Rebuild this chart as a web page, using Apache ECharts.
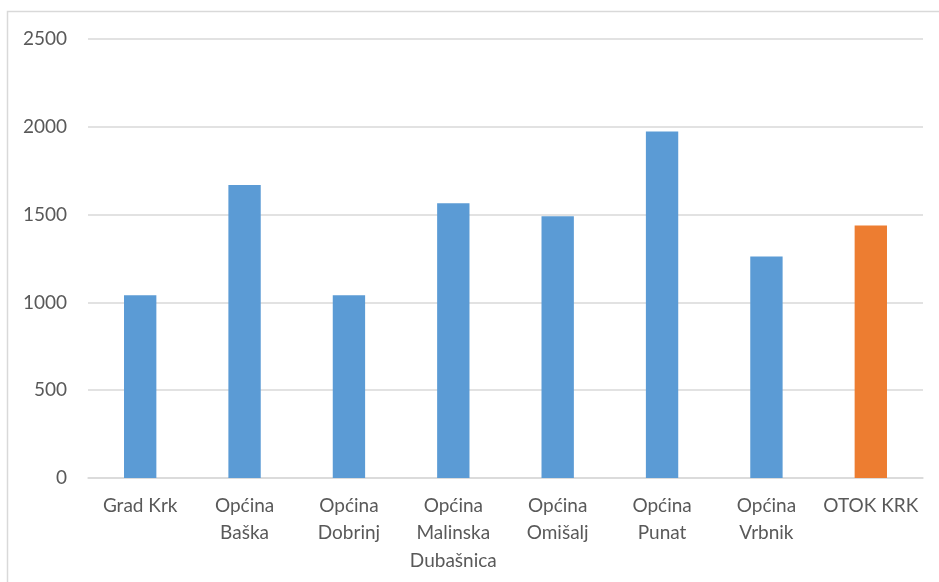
<!DOCTYPE html>
<html>
<head>
<meta charset="utf-8">
<script src="https://cdn.jsdelivr.net/npm/echarts@6/dist/echarts.min.js"></script>
<style>
  html, body { margin: 0; padding: 0; background: #fff; }
  #main { width: 939px; height: 582px; }
</style>
</head>
<body>
<div id="main"></div>
<script>
// kategorije (općine) i vrijednosti
var categories = ['Grad Krk', 'Općina\nBaška', 'Općina\nDobrinj', 'Općina\nMalinska\nDubašnica',
    'Općina\nOmišalj', 'Općina\nPunat', 'Općina\nVrbnik', 'OTOK KRK'];
var values = [1041, 1668, 1041, 1564, 1491, 1973, 1262, 1438];
var barColors = ['#5b9bd5', '#5b9bd5', '#5b9bd5', '#5b9bd5', '#5b9bd5', '#5b9bd5', '#5b9bd5', '#ed7d31'];
var yMax = 2500;
var yStep = 500;

var myChart = echarts.init(document.getElementById('main'));

var seriesData = [];
for (var i = 0; i < values.length; i++) {
    seriesData.push({ value: values[i], itemStyle: { color: barColors[i] } });
}

var option = {
    animation: false,
    backgroundColor: '#fff',
    graphic: [{
        type: 'rect',
        shape: { x: 7.5, y: 11.5, width: 960, height: 600 },
        style: { fill: 'none', stroke: '#d9d9d9', lineWidth: 1.5 },
        silent: true
    }],
    grid: { left: 88, right: 16, top: 39, bottom: 104 },
    xAxis: {
        type: 'category',
        data: categories,
        axisLine: { lineStyle: { color: '#d9d9d9', width: 1.5 } },
        axisTick: { show: false },
        axisLabel: {
            color: '#595959',
            fontFamily: 'Lato',
            fontSize: 19,
            lineHeight: 27.5,
            margin: 14,
            interval: 0
        }
    },
    yAxis: {
        type: 'value',
        min: 0,
        max: yMax,
        interval: yStep,
        axisLine: { show: false },
        axisTick: { show: false },
        splitLine: { lineStyle: { color: '#d9d9d9', width: 1.5 } },
        axisLabel: {
            color: '#595959',
            fontFamily: 'Lato',
            fontSize: 19,
            margin: 21,
            formatter: function (v) { return String(v); }
        }
    },
    series: [{
        type: 'bar',
        data: seriesData,
        barWidth: '31%'
    }]
};

myChart.setOption(option);
</script>
</body>
</html>
